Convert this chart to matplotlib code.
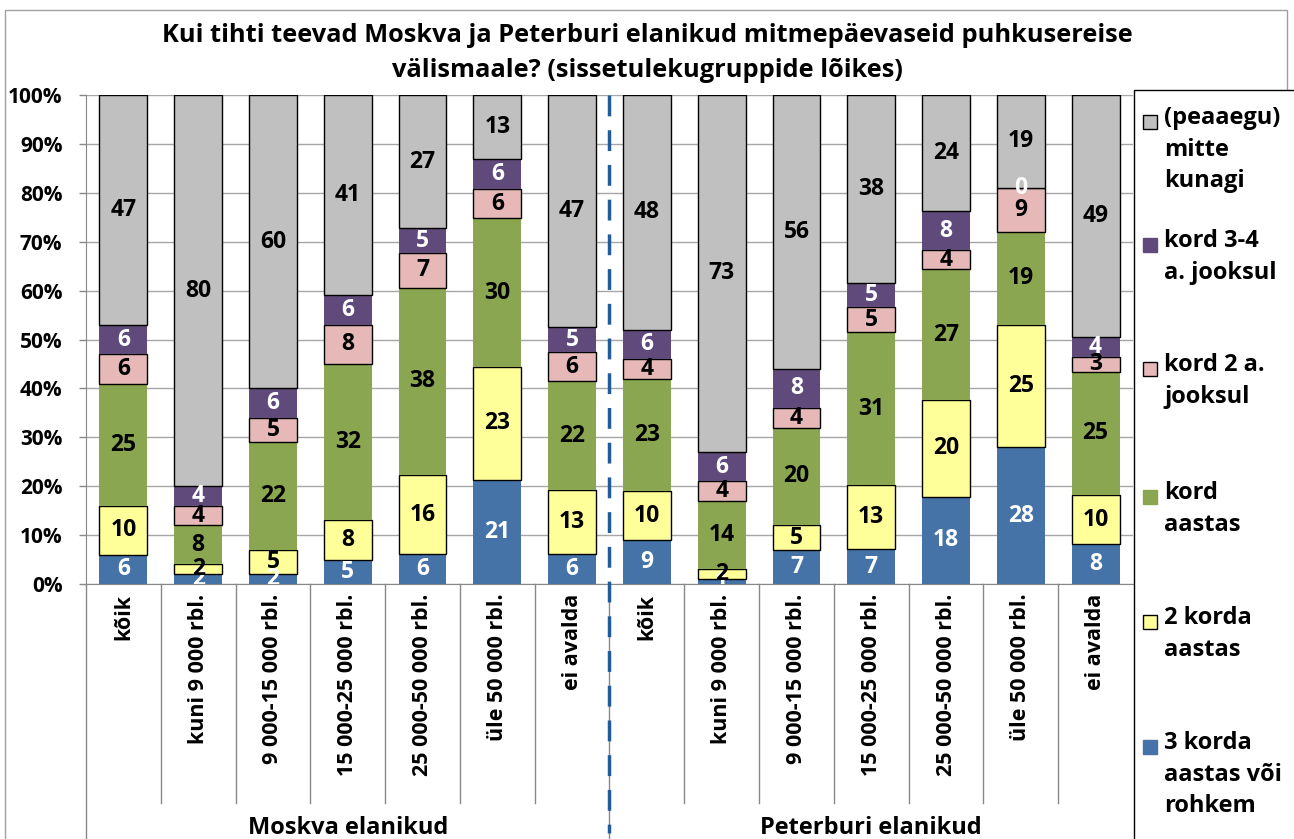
import numpy as np
import matplotlib.pyplot as plt
from matplotlib.patches import Rectangle
from matplotlib.transforms import blended_transform_factory

plt.rcParams['font.family'] = ['Open Sans', 'DejaVu Sans']
plt.rcParams['font.weight'] = 'bold'

# kategooriad
categories = ['kõik', 'kuni 9 000 rbl.', '9 000-15 000 rbl.', '15 000-25 000 rbl.',
              '25 000-50 000 rbl.', 'üle 50 000 rbl.', 'ei avalda'] * 2
groups = ['Moskva elanikud', 'Peterburi elanikud']

# seeriad (alt üles)
s_3korda = [6, 2, 2, 5, 6, 21, 6, 9, 1, 7, 7, 18, 28, 8]
s_2korda = [10, 2, 5, 8, 16, 23, 13, 10, 2, 5, 13, 20, 25, 10]
s_kord = [25, 8, 22, 32, 38, 30, 22, 23, 14, 20, 31, 27, 19, 25]
s_kord2a = [6, 4, 5, 8, 7, 6, 6, 4, 4, 4, 5, 4, 9, 3]
s_kord34 = [6, 4, 6, 6, 5, 6, 5, 6, 6, 8, 5, 8, 0, 4]
s_mitte = [47, 80, 60, 41, 27, 13, 47, 48, 73, 56, 38, 24, 19, 49]

series = [s_3korda, s_2korda, s_kord, s_kord2a, s_kord34, s_mitte]
names = ['3 korda\naastas või\nrohkem', '2 korda\naastas', 'kord\naastas',
         'kord 2 a.\njooksul', 'kord 3-4\na. jooksul', '(peaaegu)\nmitte\nkunagi']
colors = ['#4573A7', '#FFFF99', '#8BA650', '#E6B9B8', '#604A7B', '#C0C0C0']
edges = [None, 'black', None, 'black', None, 'black']
txt_colors = ['white', 'black', 'black', 'black', 'white', 'black']

W, H = 1294, 839
fig = plt.figure(figsize=(W / 100, H / 100), dpi=100)
ax = fig.add_axes([86 / W, (H - 584) / H, (1133 - 86) / W, 489 / H])

data = np.array(series, dtype=float)
pct = data / data.sum(axis=0) * 100
x = np.arange(len(categories))
bottom = np.zeros(len(categories))
for i in range(len(series)):
    if edges[i]:
        ax.bar(x, pct[i], 0.64, bottom=bottom, color=colors[i], edgecolor=edges[i],
               linewidth=1, zorder=3)
    else:
        ax.bar(x, pct[i], 0.64, bottom=bottom, color=colors[i], linewidth=0, zorder=3)
    for j in range(len(x)):
        ax.text(x[j], bottom[j] + pct[i][j] / 2, str(series[i][j]), ha='center', va='center',
                fontsize=16.5, fontweight='bold', color=txt_colors[i], zorder=5, clip_on=True)
    bottom += pct[i]

ax.set_xlim(-0.5, len(x) - 0.5)
ax.set_ylim(0, 100)
ax.set_yticks(np.arange(0, 101, 10))
ax.set_yticklabels(['%d%%' % v for v in range(0, 101, 10)], fontsize=15, fontweight='bold')
ax.tick_params(axis='y', length=5, width=1, color='#888888', pad=12)
ax.set_xticks(x)
ax.set_xticklabels(categories, rotation=90, fontsize=15.5, fontweight='bold')
ax.tick_params(axis='x', length=0, pad=7)
ax.grid(axis='y', color='#A6A6A6', linewidth=1, zorder=0)
for side in ['top', 'right']:
    ax.spines[side].set_visible(False)
ax.spines['left'].set_color('#888888')
ax.spines['bottom'].set_color('#888888')

# eraldusjooned kategooriate all
tr = blended_transform_factory(ax.transData, ax.transAxes)
for k in range(1, len(x)):
    if k == 7:
        continue
    ax.plot([k - 0.5, k - 0.5], [0, -0.448], color='#888888', lw=1, transform=tr, clip_on=False)
ax.plot([-0.5, -0.5], [0, -0.6], color='#888888', lw=1, transform=tr, clip_on=False)
ax.plot([6.5, 6.5], [0, -0.6], color='#888888', lw=1, transform=tr, clip_on=False)
ax.plot([6.5, 6.5], [1, -0.51], color='#1F5C99', lw=2.5, ls=(0, (6, 4)), transform=tr,
        clip_on=False, zorder=6)

ax.text(3, -0.5, groups[0], transform=tr, ha='center', va='center', fontsize=17, fontweight='bold')
ax.text(10, -0.5, groups[1], transform=tr, ha='center', va='center', fontsize=17, fontweight='bold')

fig.suptitle('Kui tihti teevad Moskva ja Peterburi elanikud mitmepäevaseid puhkusereise\n'
             'välismaale? (sissetulekugruppide lõikes)', x=0.5, y=1 - 23 / H, va='top',
             fontsize=18.3, fontweight='bold', linespacing=1.55)

# raam
fig.patches.append(Rectangle((5 / W, -0.1), (1287 - 5) / W, 1.1 - 10 / H, transform=fig.transFigure,
                             fill=False, edgecolor='#A0A0A0', lw=1))
# legend
fig.patches.append(Rectangle((1134 / W, -0.1), 0.2, 1.1 - 90 / H, transform=fig.transFigure,
                             facecolor='white', edgecolor='black', lw=1, zorder=4))
leg_y = [122, 245, 369, 497, 622, 747]
for n, i in enumerate(range(len(series) - 1, -1, -1)):
    yy = 1 - leg_y[n] / H
    fig.patches.append(Rectangle((1143 / W, yy - 7 / H), 14 / W, 14 / H, transform=fig.transFigure,
                                 facecolor=colors[i], edgecolor=edges[i] or colors[i], lw=1, zorder=5))
    fig.text(1164 / W, yy + 16 / H, names[i], ha='left', va='top', fontsize=17, fontweight='bold',
             linespacing=1.42, zorder=6)

fig.savefig('out.png', dpi=100)
